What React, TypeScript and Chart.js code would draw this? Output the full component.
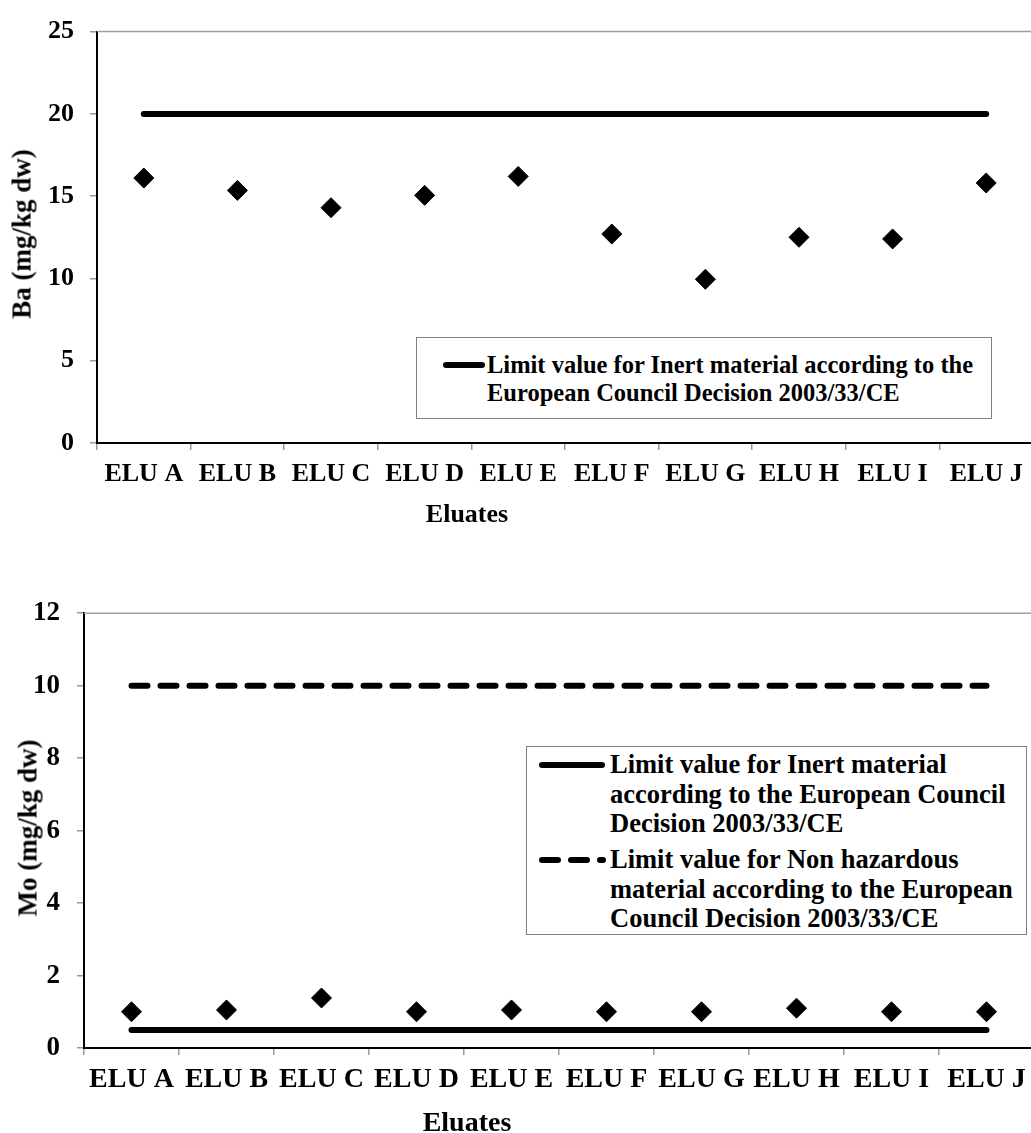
import React, { useEffect, useRef } from 'react';
import { Chart, registerables } from 'chart.js';

Chart.register(...registerables);

// ---------- data ----------
const categories = ['ELU A', 'ELU B', 'ELU C', 'ELU D', 'ELU E', 'ELU F', 'ELU G', 'ELU H', 'ELU I', 'ELU J'];

const baValues = [16.1, 15.35, 14.3, 15.05, 16.2, 12.7, 9.95, 12.5, 12.4, 15.8];
const baInertLimit = [20, 20, 20, 20, 20, 20, 20, 20, 20, 20];

const moValues = [1.0, 1.05, 1.38, 1.0, 1.05, 1.0, 1.0, 1.1, 1.0, 1.0];
const moInertLimit = [0.5, 0.5, 0.5, 0.5, 0.5, 0.5, 0.5, 0.5, 0.5, 0.5];
const moNonHazLimit = [10, 10, 10, 10, 10, 10, 10, 10, 10, 10];

const baAxis = { min: 0, max: 25, step: 5, title: 'Ba (mg/kg dw)' };
const moAxis = { min: 0, max: 12, step: 2, title: 'Mo (mg/kg dw)' };
const xTitle = 'Eluates';

const inertLegendTop = ['Limit value for Inert material according to the', 'European Council Decision 2003/33/CE'];
const inertLegendBottom = ['Limit value for Inert material', 'according to the European Council', 'Decision 2003/33/CE'];
const nonHazLegendBottom = ['Limit value for Non hazardous', 'material according to the European', 'Council Decision 2003/33/CE'];

// ---------- styling ----------
const FAMILY = "'Liberation Serif', 'Times New Roman', Times, serif";

const framePlugin = {
  id: 'frame',
  beforeDatasetsDraw(chart: any) {
    const { ctx, chartArea: a } = chart;
    ctx.save();
    ctx.strokeStyle = '#a0a0a0';
    ctx.lineWidth = 1.5;
    ctx.beginPath();
    ctx.moveTo(a.left, a.top);
    ctx.lineTo(a.right, a.top);
    ctx.lineTo(a.right, a.bottom);
    ctx.stroke();
    ctx.restore();
  },
};

function pointSet(data: number[]) {
  return {
    type: 'line',
    label: 'data',
    data,
    showLine: false,
    pointStyle: 'rectRot',
    pointRadius: 10,
    pointHoverRadius: 10,
    pointBackgroundColor: '#000',
    pointBorderColor: '#000',
    pointBorderWidth: 1,
    order: 0,
  };
}

function limitSet(data: number[], dash: number[]) {
  return {
    type: 'line',
    label: 'limit',
    data,
    borderColor: '#000',
    borderWidth: 6,
    borderCapStyle: 'round',
    borderJoinStyle: 'round',
    borderDash: dash,
    pointRadius: 0,
    pointHoverRadius: 0,
    tension: 0,
    fill: false,
    order: 1,
  };
}

function makeConfig(opts: {
  datasets: any[];
  axis: { min: number; max: number; step: number };
  yWidth: number;
  xHeight: number;
  padTop: number;
  padRight: number;
  tickFont: number;
  yTickFont: number;
  xPad: number;
  yPad: number;
}) {
  return {
    type: 'line',
    data: { labels: categories, datasets: opts.datasets },
    plugins: [framePlugin],
    options: {
      responsive: false,
      animation: false,
      events: [],
      devicePixelRatio: 1,
      layout: { padding: { top: opts.padTop, right: opts.padRight, left: 0, bottom: 0 } },
      plugins: { legend: { display: false }, tooltip: { enabled: false }, title: { display: false } },
      scales: {
        x: {
          type: 'category',
          offset: true,
          grid: { offset: true, drawOnChartArea: false, drawTicks: true, tickLength: 7, color: '#9a9a9a', lineWidth: 1.5 },
          border: { display: true, color: '#000', width: 2 },
          ticks: {
            color: '#000',
            font: { family: FAMILY, size: opts.tickFont, weight: 'bold' },
            padding: opts.xPad,
            maxRotation: 0,
            minRotation: 0,
            autoSkip: false,
          },
          afterFit: (s: any) => {
            s.height = opts.xHeight;
          },
        },
        y: {
          type: 'linear',
          min: opts.axis.min,
          max: opts.axis.max,
          grid: { drawOnChartArea: false, drawTicks: true, tickLength: 7, color: '#9a9a9a', lineWidth: 1.5 },
          border: { display: true, color: '#000', width: 2 },
          ticks: {
            stepSize: opts.axis.step,
            color: '#000',
            font: { family: FAMILY, size: opts.yTickFont, weight: 'bold' },
            padding: opts.yPad,
          },
          afterFit: (s: any) => {
            s.width = opts.yWidth;
          },
        },
      },
    },
  };
}

const textStyle = (size: number, lh: number): React.CSSProperties => ({
  fontFamily: FAMILY,
  fontWeight: 'bold',
  fontSize: size,
  lineHeight: `${lh}px`,
  color: '#000',
  whiteSpace: 'nowrap',
  position: 'absolute',
});

function VTitle({ text, cx, cy, size }: { text: string; cx: number; cy: number; size: number }) {
  return (
    <div
      style={{
        ...textStyle(size, size),
        left: cx,
        top: cy,
        transform: 'translate(-50%, -50%) rotate(-90deg)',
      }}
    >
      {text}
    </div>
  );
}

function HTitle({ text, cx, cy, size }: { text: string; cx: number; cy: number; size: number }) {
  return (
    <div style={{ ...textStyle(size, size), left: cx, top: cy, transform: 'translate(-50%, -50%)' }}>{text}</div>
  );
}

function Lines({ lines, left, top, size, lh }: { lines: string[]; left: number; top: number; size: number; lh: number }) {
  return (
    <div style={{ ...textStyle(size, lh), left, top }}>
      {lines.map((l, i) => (
        <div key={i}>{l}</div>
      ))}
    </div>
  );
}

function Sample({ x1, x2, y, dash }: { x1: number; x2: number; y: number; dash?: string }) {
  return (
    <svg style={{ position: 'absolute', left: 0, top: 0, overflow: 'visible' }} width={1} height={1}>
      <line
        x1={x1}
        x2={x2}
        y1={y}
        y2={y}
        stroke="#000"
        strokeWidth={6}
        strokeLinecap="round"
        strokeDasharray={dash}
      />
    </svg>
  );
}

export default function App() {
  const topRef = useRef<HTMLCanvasElement | null>(null);
  const botRef = useRef<HTMLCanvasElement | null>(null);

  useEffect(() => {
    const c1 = new Chart(
      topRef.current as HTMLCanvasElement,
      makeConfig({
        datasets: [pointSet(baValues), limitSet(baInertLimit, [])],
        axis: baAxis,
        yWidth: 97,
        xHeight: 57,
        padTop: 21,
        padRight: 12,
        tickFont: 26,
        yTickFont: 26,
        xPad: 9,
        yPad: 16,
      }) as any
    );
    const c2 = new Chart(
      botRef.current as HTMLCanvasElement,
      makeConfig({
        datasets: [pointSet(moValues), limitSet(moInertLimit, []), limitSet(moNonHazLimit, [16, 13])],
        axis: moAxis,
        yWidth: 84,
        xHeight: 85,
        padTop: 24,
        padRight: 11,
        tickFont: 28,
        yTickFont: 27,
        xPad: 8,
        yPad: 17,
      }) as any
    );
    return () => {
      c1.destroy();
      c2.destroy();
    };
  }, []);

  return (
    <div
      style={{
        position: 'fixed',
        left: 0,
        top: 0,
        width: 1031,
        height: 1133,
        overflow: 'hidden',
        background: '#fff',
      }}
    >
      <canvas ref={topRef} width={1045} height={500} style={{ position: 'absolute', left: 0, top: 0 }} />
      <canvas ref={botRef} width={1045} height={553} style={{ position: 'absolute', left: 0, top: 580 }} />

      {/* top chart titles */}
      <VTitle text={baAxis.title} cx={22} cy={234} size={27} />
      <HTitle text={xTitle} cx={467} cy={514} size={26} />

      {/* top legend */}
      <div
        style={{
          position: 'absolute',
          left: 416,
          top: 337,
          width: 576,
          height: 82,
          border: '1px solid #808080',
          boxSizing: 'border-box',
          background: '#fff',
        }}
      />
      <Sample x1={446} x2={482} y={365} />
      <Lines lines={inertLegendTop} left={487} top={351} size={24.5} lh={28} />

      {/* bottom chart titles */}
      <VTitle text={moAxis.title} cx={28} cy={828} size={27} />
      <HTitle text={xTitle} cx={467} cy={1122} size={28} />

      {/* bottom legend */}
      <div
        style={{
          position: 'absolute',
          left: 526,
          top: 746,
          width: 501,
          height: 189,
          border: '1px solid #808080',
          boxSizing: 'border-box',
          background: '#fff',
        }}
      />
      <Sample x1={542} x2={602} y={765} />
      <Sample x1={542} x2={603} y={860} dash="16 13" />
      <Lines lines={inertLegendBottom} left={610} top={750} size={26.5} lh={29.5} />
      <Lines lines={nonHazLegendBottom} left={610} top={845} size={26.5} lh={29.5} />
    </div>
  );
}
